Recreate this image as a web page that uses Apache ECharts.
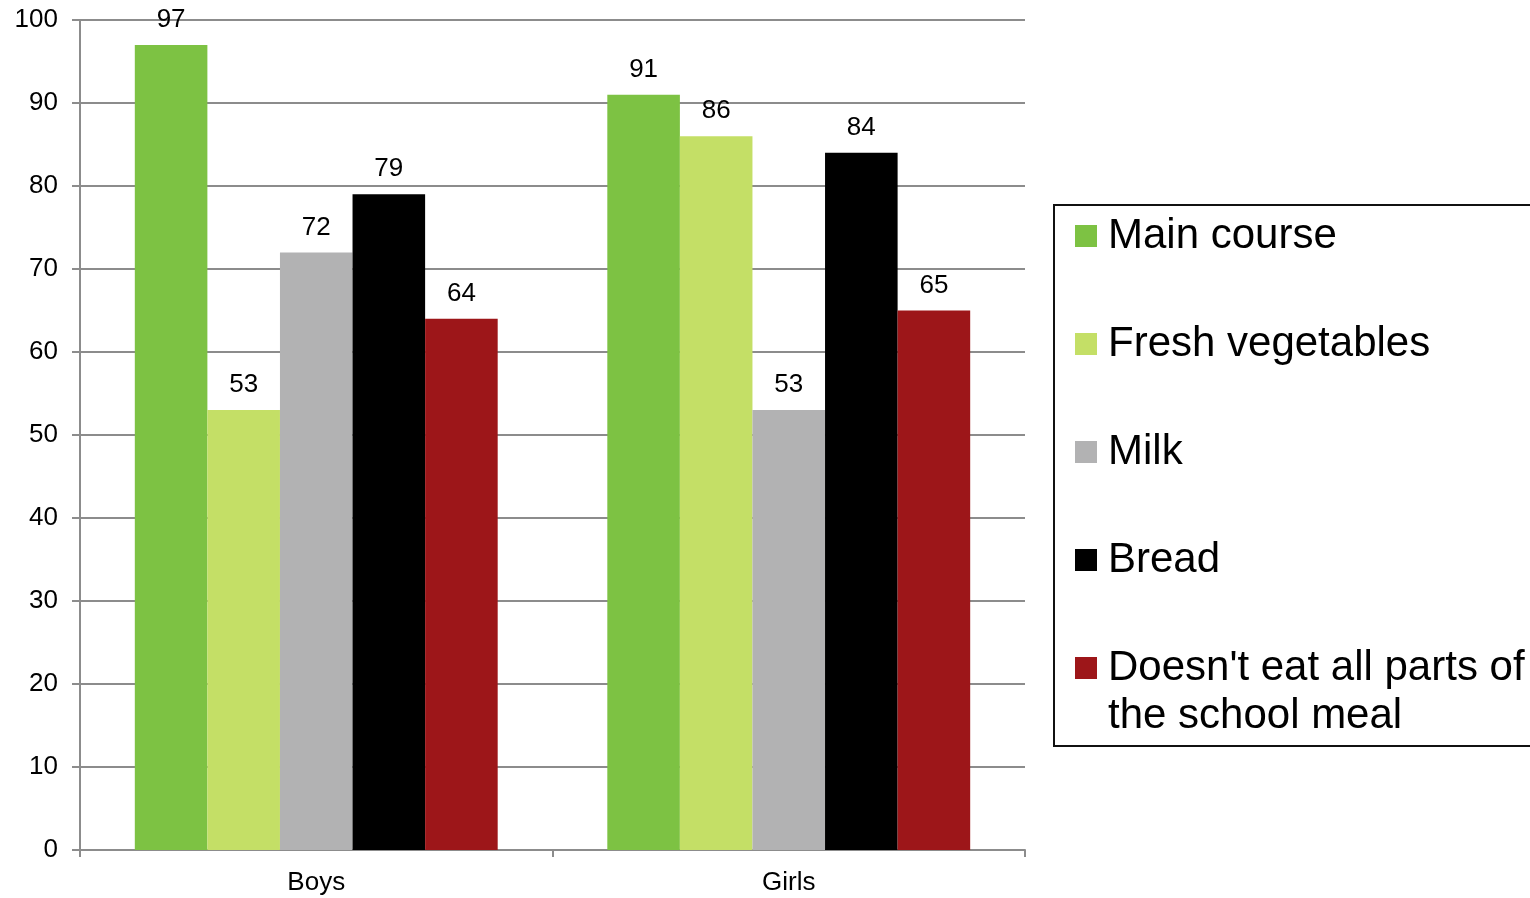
<!DOCTYPE html>
<html>
<head>
<meta charset="utf-8">
<script src="https://cdn.jsdelivr.net/npm/echarts@6/dist/echarts.min.js"></script>
<style>
  html, body { margin: 0; padding: 0; background: #ffffff; }
  #chart { width: 1530px; height: 898px; }
</style>
</head>
<body>
<div id="chart"></div>
<script>
// Share of pupils eating each part of the school meal, by gender
const categories = ['Boys', 'Girls'];
const seriesNames = [
  'Main course',
  'Fresh vegetables',
  'Milk',
  'Bread',
  "Doesn't eat all parts of the school meal"
];
const mainCourse = [97, 91];
const freshVegetables = [53, 86];
const milk = [72, 53];
const bread = [79, 84];
const notAll = [64, 65];
const yTicks = { min: 0, max: 100, interval: 10 };

const colors = ['#7dc243', '#c4df66', '#b2b2b3', '#000000', '#9d1619'];
const values = [mainCourse, freshVegetables, milk, bread, notAll];
const fontFamily = 'Liberation Sans, Arial, sans-serif';

const chart = echarts.init(document.getElementById('chart'), null, { renderer: 'canvas' });

const series = seriesNames.map((name, i) => ({
  name: name,
  type: 'bar',
  data: values[i],
  barGap: '0%',
  barCategoryGap: '23.2%',
  itemStyle: { color: colors[i] },
  label: {
    show: true,
    position: 'top',
    distance: 12,
    color: '#000',
    fontSize: 26,
    fontFamily: fontFamily
  },
  emphasis: { disabled: true }
}));

const legendText = {
  color: '#000',
  fontSize: 42,
  fontFamily: fontFamily,
  lineHeight: 48,
  padding: [0, 0, 0, 6]
};

chart.setOption({
  animation: false,
  color: colors,
  grid: { left: 80, right: 505, top: 20, bottom: 48, containLabel: false },
  xAxis: {
    type: 'category',
    data: categories,
    boundaryGap: true,
    axisLine: { lineStyle: { color: '#8c8c8c', width: 2 } },
    axisTick: { show: true, length: 7, alignWithLabel: false, lineStyle: { color: '#8c8c8c', width: 2 } },
    axisLabel: { color: '#000', fontSize: 26, fontFamily: fontFamily, margin: 20 }
  },
  yAxis: {
    type: 'value',
    min: yTicks.min,
    max: yTicks.max,
    interval: yTicks.interval,
    axisLine: { show: true, lineStyle: { color: '#8c8c8c', width: 2 } },
    axisTick: { show: true, length: 8, lineStyle: { color: '#8c8c8c', width: 2 } },
    axisLabel: { color: '#000', fontSize: 26, fontFamily: fontFamily, margin: 22 },
    splitLine: { show: true, lineStyle: { color: '#8c8c8c', width: 2 } }
  },
  legend: [
    {
      orient: 'vertical',
      left: 1070,
      top: 207,
      itemWidth: 22,
      itemHeight: 22,
      itemGap: 60,
      icon: 'rect',
      selectedMode: false,
      data: seriesNames.slice(0, 4),
      textStyle: legendText
    },
    {
      // long label wraps onto a second line, first line level with the swatch
      orient: 'vertical',
      left: 1070,
      top: 591,
      itemWidth: 22,
      itemHeight: 22,
      icon: 'rect',
      selectedMode: false,
      data: seriesNames.slice(4),
      formatter: () => "\nDoesn't eat all parts of\nthe school meal",
      textStyle: legendText
    }
  ],
  graphic: [{
    type: 'rect',
    shape: { x: 1054, y: 205, width: 520, height: 541 },
    style: { fill: 'none', stroke: '#111', lineWidth: 2 },
    silent: true
  }],
  series: series
});
</script>
</body>
</html>
